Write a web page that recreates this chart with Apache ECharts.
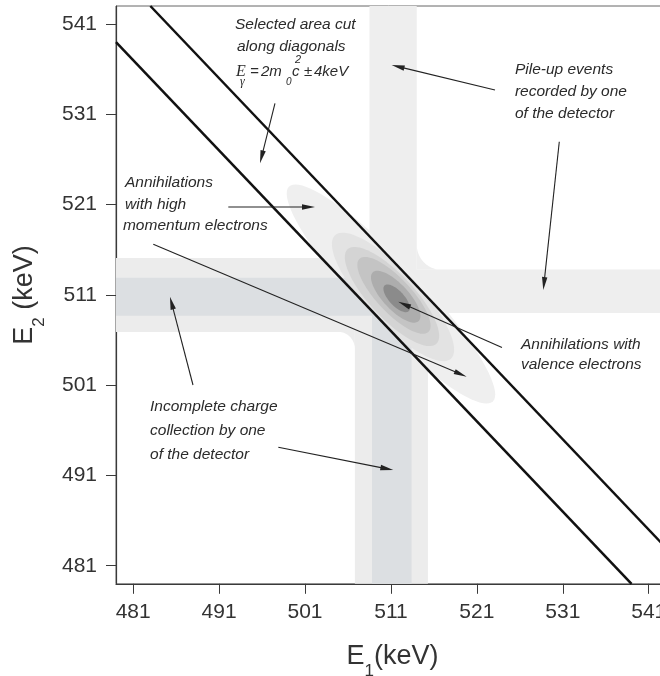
<!DOCTYPE html>
<html><head><meta charset="utf-8">
<script src="https://cdn.jsdelivr.net/npm/echarts@6/dist/echarts.min.js"></script>
<style>html,body{margin:0;padding:0;background:#fff}#c{width:660px;height:676px}</style>
</head><body><div id="c"></div>
<script>
// ---- data (keV) ----
const xTicks = [481, 491, 501, 511, 521, 531, 541];
const yTicks = [481, 491, 501, 511, 521, 531, 541];
const cutSums = [1018, 1026];               // E1 + E2 = 2m0c^2 -/+ 4 keV
// bands: [x0, x1, y0, y1]
const pileUpBands = [[508.5, 514.0, 511, 543], [511, 545, 509.0, 513.8]];
const chargeOuterBands = [[479, 511, 506.9, 515.1], [506.8, 515.3, 479, 511]];
const chargeInnerBands = [[479, 510.5, 508.7, 512.9], [508.8, 513.4, 479, 510.5]];
// fillets: [cornerX, cornerY, radius, dirX, dirY]
const fillets = [[514.0, 513.8, 2.8, 1, 1], [506.8, 506.9, 1.9, -1, -1]];
// peak contours: [cx, cy, semi-major, semi-minor] along anti-diagonal
const peakOuter = [[511.0, 511.1, 16.8, 3.5]];
const peakLevels = [[511.24, 510.77, 9.6, 3.0], [511.12, 510.82, 7.35, 2.5],
                    [511.35, 510.95, 5.7, 1.95], [511.55, 510.8, 3.8, 1.45], [511.66, 510.62, 2.0, 0.85]];
// arrows: [xFrom, yFrom, xTo, yTo]
const arrows = [
  [497.50, 532.22, 495.76, 525.58],
  [523.11, 533.70, 511.08, 536.46],
  [530.59, 527.97, 528.73, 511.54],
  [492.07, 520.74, 502.16, 520.74],
  [483.34, 516.60, 519.81, 501.94],
  [523.92, 505.17, 511.85, 510.25],
  [487.96, 501.02, 485.28, 510.80],
  [497.89, 494.12, 511.27, 491.60]
];
const noteTexts = ['Selected area cut', 'along diagonals', 'Pile-up events', 'recorded by one', 'of the detector',
  'Annihilations', 'with high', 'momentum electrons', 'Annihilations with', 'valence electrons',
  'Incomplete charge', 'collection by one', 'of the detector'];
const noteX = [492.85, 493.08, 525.43, 525.43, 525.43, 480.05, 480.05, 479.81, 526.13, 526.13, 482.96, 482.96, 482.96];
const noteY = [540.90, 538.46, 535.91, 533.47, 531.04, 523.39, 520.96, 518.63, 505.45, 503.23, 498.58, 495.92, 493.27];
const formulaPos = [[492.85, 535.69]];

// ---- styles ----
const FONT = "'Liberation Sans', Arial, Helvetica, sans-serif";
const SERIF = "'Liberation Serif', 'Times New Roman', serif";
const pileColor = '#eeeeee', outerColor = '#ececec', innerColor = '#dcdfe2';
const peakOuterColor = '#efefef';
const peakColors = ['#e3e3e3', '#d4d4d4', '#c4c4c4', '#adadad', '#8b8b8b'];
const ink = '#2b2b2b';

function rectItem(color) {
  return function (params, api) {
    const p0 = api.coord([api.value(0), api.value(3)]);
    const p1 = api.coord([api.value(1), api.value(2)]);
    return { type: 'rect', shape: { x: p0[0], y: p0[1], width: p1[0] - p0[0], height: p1[1] - p0[1] },
      style: { fill: color } };
  };
}
function filletItem(color) {
  return function (params, api) {
    const px = api.value(0), py = api.value(1), r = api.value(2), sx = api.value(3), sy = api.value(4);
    const cx = px + sx * r, cy = py + sy * r;
    const pts = [api.coord([px, py])];
    for (let k = 0; k <= 24; k++) {
      const t = k / 24 * Math.PI / 2;
      pts.push(api.coord([cx - sx * r * Math.sin(t), cy - sy * r * Math.cos(t)]));
    }
    return { type: 'polygon', shape: { points: pts }, style: { fill: color } };
  };
}
function ellipseItem(colors) {
  return function (params, api) {
    const cx = api.value(0), cy = api.value(1), a = api.value(2), b = api.value(3);
    const pts = [];
    for (let k = 0; k < 90; k++) {
      const t = k / 90 * 2 * Math.PI, u = a * Math.cos(t), v = b * Math.sin(t);
      pts.push(api.coord([cx + (u + v) / Math.SQRT2, cy + (-u + v) / Math.SQRT2]));
    }
    return { type: 'polygon', shape: { points: pts }, style: { fill: colors[params.dataIndex % colors.length] } };
  };
}
function arrowItem(params, api) {
  const a = api.coord([api.value(0), api.value(1)]);
  const b = api.coord([api.value(2), api.value(3)]);
  const dx = b[0] - a[0], dy = b[1] - a[1], len = Math.hypot(dx, dy), ux = dx / len, uy = dy / len;
  const L = 13, W = 2.7;
  const bx = b[0] - ux * L, by = b[1] - uy * L;
  return { type: 'group', children: [
    { type: 'line', shape: { x1: a[0], y1: a[1], x2: bx + ux * 3, y2: by + uy * 3 }, style: { stroke: '#222', lineWidth: 1.1 } },
    { type: 'polygon', shape: { points: [[b[0], b[1]], [bx - uy * W, by + ux * W], [bx + uy * W, by - ux * W]] }, style: { fill: '#222' } }
  ] };
}
function noteItem(params, api) {
  const p = api.coord([api.value(0), api.value(1)]);
  return { type: 'text', x: p[0], y: p[1], style: { text: noteTexts[params.dataIndex], fill: ink,
    font: 'italic 15.5px ' + FONT, align: 'left', verticalAlign: 'middle' } };
}
function formulaItem(params, api) {
  const p = api.coord([api.value(0), api.value(1)]);
  const piece = (t, dx, dy, font) => ({ type: 'text', x: dx, y: dy,
    style: { text: t, fill: ink, font: font, align: 'left', verticalAlign: 'middle' } });
  const sans = (s) => 'italic ' + s + 'px ' + FONT;
  const ser = (s) => 'italic ' + s + 'px ' + SERIF;
  return { type: 'group', x: p[0], y: p[1], children: [
    piece('E', 1, 0, ser(16)),
    piece('γ', 5, 10, ser(12)),
    piece('=', 15, 0, sans(15)),
    piece('2m', 26, 0, sans(15)),
    piece('0', 51, 10, sans(10)),
    piece('c', 57, 0, sans(15)),
    piece('2', 60, -12, sans(11)),
    piece('±', 69, 0, sans(15)),
    piece('4keV', 79, 0, sans(15))
  ] };
}

function cutLine(s) {
  const x0 = Math.max(479, s - 543), x1 = Math.min(545, s - 479);
  return [[x0, s - x0], [x1, s - x1]];
}

const axisCommon = {
  type: 'value',
  axisLine: { show: true, onZero: false, lineStyle: { color: '#3a3a3a', width: 1.2 } },
  axisTick: { show: true, length: 10, lineStyle: { color: '#3a3a3a', width: 1 } },
  splitLine: { show: false },
  nameLocation: 'middle'
};

const chart = echarts.init(document.getElementById('c'), null, { renderer: 'canvas' });
chart.setOption({
  animation: false,
  grid: { left: 116, top: 6, width: 567.1, height: 577.8, show: true, borderColor: '#666', borderWidth: 1,
    containLabel: false, outerBoundsMode: 'none' },
  xAxis: Object.assign({}, axisCommon, {
    min: 479, max: 545, position: 'bottom',
    axisTick: Object.assign({}, axisCommon.axisTick, { customValues: xTicks }),
    axisLabel: { customValues: xTicks, margin: 18, fontSize: 21, color: '#333', fontFamily: FONT },
    name: '{m|E}{s|1}{m|(keV)}', nameGap: 50,
    nameTextStyle: { padding: [0, 14, 0, 0], rich: {
      m: { fontSize: 27, fontFamily: FONT, color: '#333', lineHeight: 46 },
      s: { fontSize: 17, fontFamily: FONT, color: '#333', lineHeight: 46, verticalAlign: 'bottom' } } }
  }),
  yAxis: Object.assign({}, axisCommon, {
    min: 479, max: 543,
    axisTick: Object.assign({}, axisCommon.axisTick, { customValues: yTicks }),
    axisLabel: { customValues: yTicks, margin: 19, fontSize: 21, color: '#333', fontFamily: FONT },
    name: '{m|E}{s|2}{m| (keV)}', nameGap: 68, nameRotate: 90,
    nameTextStyle: { rich: {
      m: { fontSize: 27, fontFamily: FONT, color: '#333', lineHeight: 46 },
      s: { fontSize: 17, fontFamily: FONT, color: '#333', lineHeight: 46, verticalAlign: 'bottom' } } }
  }),
  series: [
    { type: 'custom', z: 1, silent: true, renderItem: rectItem(pileColor), data: pileUpBands },
    { type: 'custom', z: 1, silent: true, renderItem: rectItem(outerColor), data: chargeOuterBands },
    { type: 'custom', z: 1, silent: true, renderItem: filletItem(pileColor), data: fillets.slice(0, 1) },
    { type: 'custom', z: 1, silent: true, renderItem: filletItem(outerColor), data: fillets.slice(1) },
    { type: 'custom', z: 2, silent: true, renderItem: ellipseItem([peakOuterColor]), data: peakOuter },
    { type: 'custom', z: 3, silent: true, renderItem: rectItem(innerColor), data: chargeInnerBands },
    { type: 'custom', z: 4, silent: true, renderItem: ellipseItem(peakColors), data: peakLevels },
    ...cutSums.map(s => ({ type: 'line', z: 5, silent: true, data: cutLine(s), symbol: 'none',
      lineStyle: { color: '#111', width: 2.5 } })),
    { type: 'custom', z: 6, silent: true, renderItem: arrowItem, data: arrows },
    { type: 'custom', z: 7, silent: true, renderItem: noteItem, data: noteX.map((x, i) => [x, noteY[i]]) },
    { type: 'custom', z: 7, silent: true, renderItem: formulaItem, data: formulaPos }
  ]
});
</script></body></html>
